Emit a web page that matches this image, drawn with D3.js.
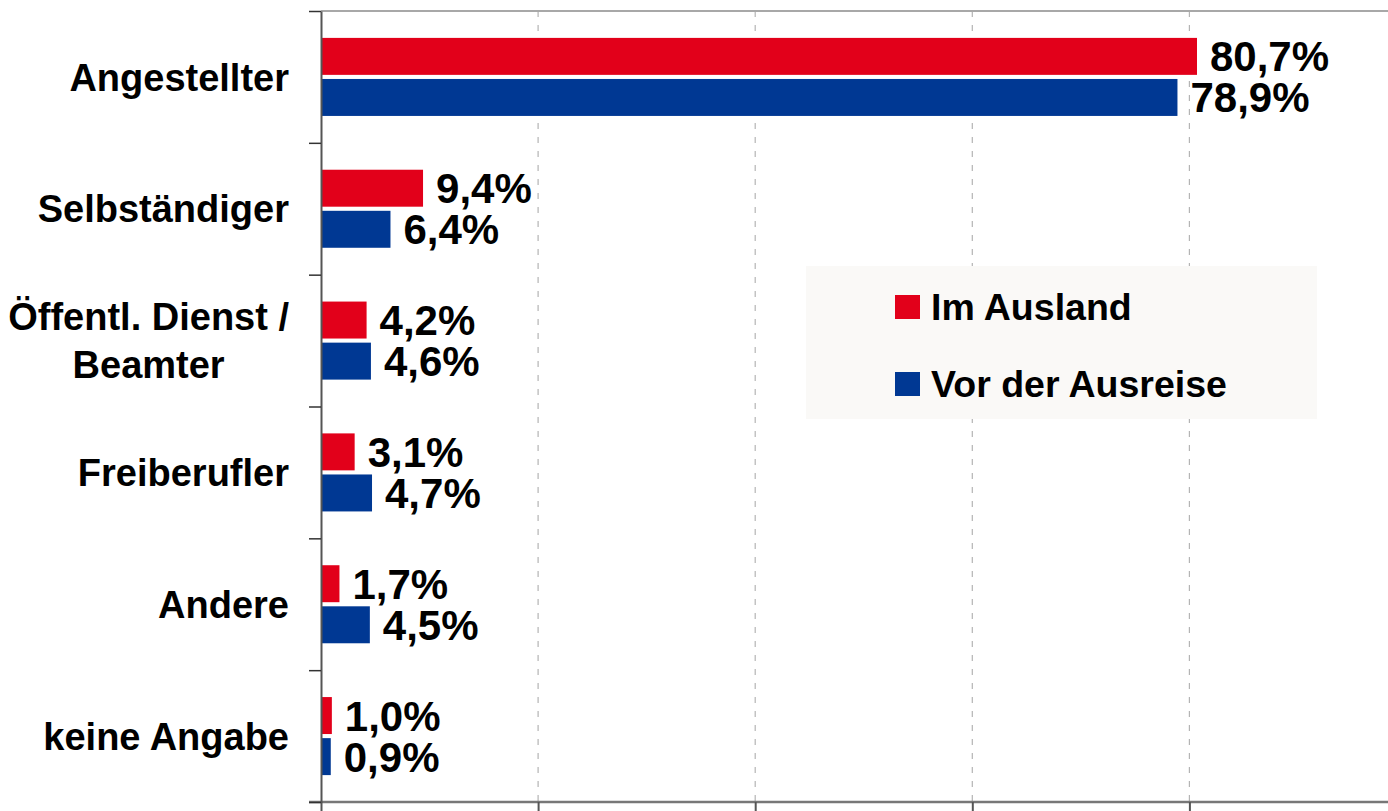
<!DOCTYPE html>
<html>
<head>
<meta charset="utf-8">
<script src="https://cdn.jsdelivr.net/npm/d3@7"></script>
<style>
  html, body { margin: 0; padding: 0; background: #fff; }
  svg { display: block; font-family: "Liberation Sans", Arial, sans-serif; }
</style>
</head>
<body>
<svg id="chart" width="1388" height="811"></svg>
<script>
const categories = [
  ["Angestellter"],
  ["Selbständiger"],
  ["Öffentl. Dienst /", "Beamter"],
  ["Freiberufler"],
  ["Andere"],
  ["keine Angabe"]
];
const seriesNames = ["Im Ausland", "Vor der Ausreise"];
const imAusland = [80.7, 9.4, 4.2, 3.1, 1.7, 1.0];
const vorDerAusreise = [78.9, 6.4, 4.6, 4.7, 4.5, 0.9];
const xTicks = [0, 20, 40, 60, 80, 100];
const colors = ["#E2001A", "#003893"];

const svg = d3.select("#chart");
const plotLeft = 321, plotTop = 11, plotBottom = 802, plotRight = 1406.5;

const keys = categories.map(c => c.join(" "));
const data = keys.map((k, i) => ({ key: k, lines: categories[i], values: [imAusland[i], vorDerAusreise[i]] }));

const x = d3.scaleLinear().domain([0, 100]).range([plotLeft, plotRight]);
const y = d3.scaleBand().domain(keys).range([plotTop, plotBottom]).paddingInner(0.408).paddingOuter(0.204);
const y1 = d3.scaleBand().domain([0, 1]).range([0, y.bandwidth()]).paddingInner(0.1);
const yEdges = d3.scaleLinear().domain([0, keys.length]).range([plotTop, plotBottom]);

// gridlines
svg.append("g").selectAll("line").data(xTicks.filter(t => t > 0)).join("line")
  .attr("x1", d => x(d)).attr("x2", d => x(d))
  .attr("y1", plotTop).attr("y2", plotBottom)
  .attr("stroke", "#b4b4b4").attr("stroke-width", 1.2)
  .attr("stroke-dasharray", "6,8");

// top border
svg.append("line").attr("x1", plotLeft).attr("x2", 1388).attr("y1", plotTop).attr("y2", plotTop)
  .attr("stroke", "#a8a8a8").attr("stroke-width", 2);

// legend box
const lg = svg.append("g");
lg.append("rect").attr("x", 806).attr("y", 266).attr("width", 511).attr("height", 153).attr("fill", "#FAF9F7");
seriesNames.forEach((s, i) => {
  const yy = 295 + i * 77;
  lg.append("rect").attr("x", 895).attr("y", yy).attr("width", 25).attr("height", 24).attr("fill", colors[i]);
  lg.append("text").attr("x", 931).attr("y", yy + 25).attr("font-size", 37.5).attr("font-weight", "bold")
    .attr("fill", "#000").text(s);
});

// bars
const groups = svg.append("g").selectAll("g").data(data).join("g")
  .attr("transform", d => `translate(0,${y(d.key)})`);
groups.selectAll("rect").data(d => d.values).join("rect")
  .attr("x", x(0) + 1)
  .attr("y", (v, i) => y1(i))
  .attr("width", v => x(v) - x(0) - 1)
  .attr("height", y1.bandwidth())
  .attr("fill", (v, i) => colors[i]);
groups.selectAll("text").data(d => d.values).join("text")
  .attr("x", v => x(v) + 13)
  .attr("y", (v, i) => y1(i) + y1.bandwidth() / 2 + 15)
  .attr("font-size", 42).attr("font-weight", "bold").attr("fill", "#000")
  .text(v => d3.format(".1f")(v).replace(".", ",") + "%");

// bottom axis
const xAxis = svg.append("g").attr("transform", `translate(0,${plotBottom})`)
  .call(d3.axisBottom(x).tickValues(xTicks).tickFormat("").tickSizeInner(10).tickSizeOuter(0));
xAxis.select(".domain").attr("stroke", "#777").attr("stroke-width", 2.5).attr("d", `M309,0H1388`);
xAxis.selectAll(".tick line").attr("stroke", "#555").attr("stroke-width", 2);

// left axis
const yAxis = svg.append("g").attr("transform", `translate(${plotLeft},0)`)
  .call(d3.axisLeft(yEdges).tickValues(d3.range(0, keys.length + 1)).tickFormat("").tickSizeInner(12).tickSizeOuter(0));
yAxis.select(".domain").attr("stroke", "#555").attr("stroke-width", 2);
yAxis.selectAll(".tick line").attr("stroke", "#333").attr("stroke-width", 1.5);

// category labels
const labelRight = 289;
data.forEach(d => {
  const cy = y(d.key) + y.bandwidth() / 2;
  const n = d.lines.length;
  const t = svg.append("text").attr("font-size", 38).attr("font-weight", "bold").attr("fill", "#000");
  const spans = d.lines.map((line, i) => t.append("tspan")
    .attr("y", cy + 13.6 + (i - (n - 1) / 2) * 48).text(line));
  if (n === 1) {
    t.attr("text-anchor", "end"); spans[0].attr("x", labelRight);
  } else {
    const w = d3.max(spans, s => s.node().getComputedTextLength());
    t.attr("text-anchor", "middle");
    spans.forEach(s => s.attr("x", labelRight - w / 2));
  }
});
</script>
</body>
</html>
